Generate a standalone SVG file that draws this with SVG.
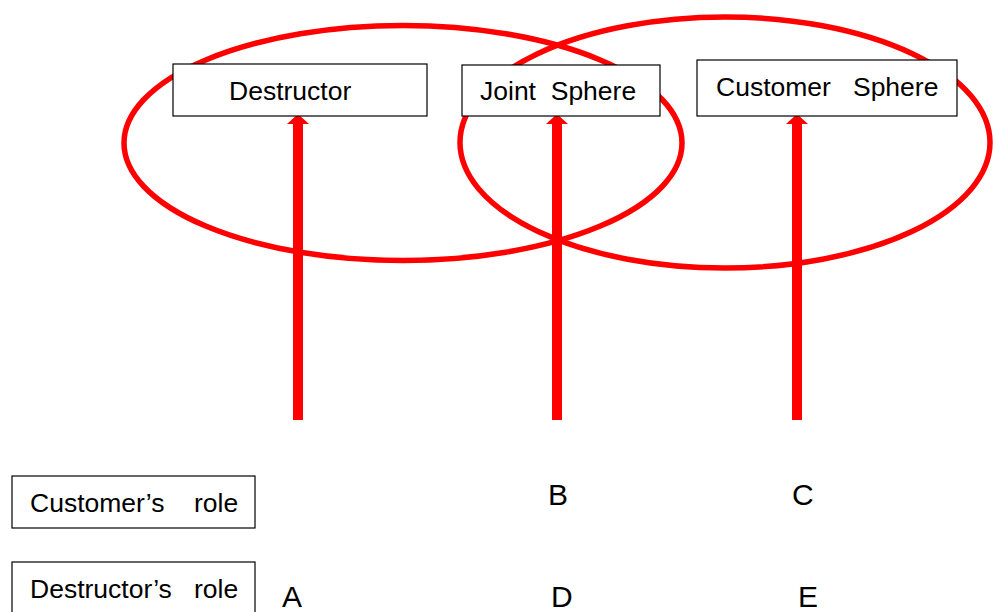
<svg xmlns="http://www.w3.org/2000/svg" width="993" height="612" viewBox="0 0 993 612">
  <style>
    .ring { fill: none; stroke: #ff0000; stroke-width: 5.5; }
    .box { fill: #ffffff; stroke: #000000; stroke-width: 1.2; }
    .lbl { font-family: "Liberation Sans", Arial, sans-serif; font-size: 26.5px; fill: #000000; white-space: pre; }
    .letter { font-family: "Liberation Sans", Arial, sans-serif; font-size: 30px; fill: #000000; }
    .shaft { stroke: #ff0000; stroke-width: 10; fill: none; marker-end: url(#head); }
  </style>
  <defs>
    <marker id="head" markerUnits="userSpaceOnUse" viewBox="0 0 10 22" refX="0" refY="11" markerWidth="10" markerHeight="22" orient="auto">
      <path d="M0,0 L10,11 L0,22 Z" fill="#ff0000"/>
    </marker>
  </defs>

  <!-- overlapping spheres -->
  <g id="spheres">
    <ellipse class="ring" cx="403" cy="143" rx="279" ry="117.5"/>
    <ellipse class="ring" cx="725" cy="142.5" rx="265" ry="125.5"/>
  </g>

  <!-- upward arrows -->
  <g id="connectors">
    <line class="shaft" x1="298" y1="420" x2="298" y2="124"/>
    <line class="shaft" x1="557" y1="420" x2="557" y2="124"/>
    <line class="shaft" x1="797" y1="420" x2="797" y2="124"/>
  </g>

  <g id="destructor">
    <rect class="box" x="173" y="64" width="254" height="52"/>
    <text class="lbl" x="229" y="100">Destructor</text>
  </g>
  <g id="joint-sphere">
    <rect class="box" x="462" y="65" width="198" height="51"/>
    <text class="lbl" x="480" y="99.5">Joint  Sphere</text>
  </g>
  <g id="customer-sphere">
    <rect class="box" x="697" y="60" width="260" height="56"/>
    <text class="lbl" x="716" y="96">Customer   Sphere</text>
  </g>

  <g id="customer-role">
    <rect class="box" x="12" y="476" width="243" height="52"/>
    <text class="lbl" x="30" y="511.5">Customer’s    role</text>
  </g>
  <g id="destructor-role">
    <rect class="box" x="12" y="562" width="243" height="60"/>
    <text class="lbl" x="30" y="597.5">Destructor’s   role</text>
  </g>

  <g id="cells">
    <text class="letter" x="548" y="504.5">B</text>
    <text class="letter" x="792" y="504.5">C</text>
    <text class="letter" x="282" y="607">A</text>
    <text class="letter" x="551" y="607">D</text>
    <text class="letter" x="798" y="607">E</text>
  </g>
</svg>
